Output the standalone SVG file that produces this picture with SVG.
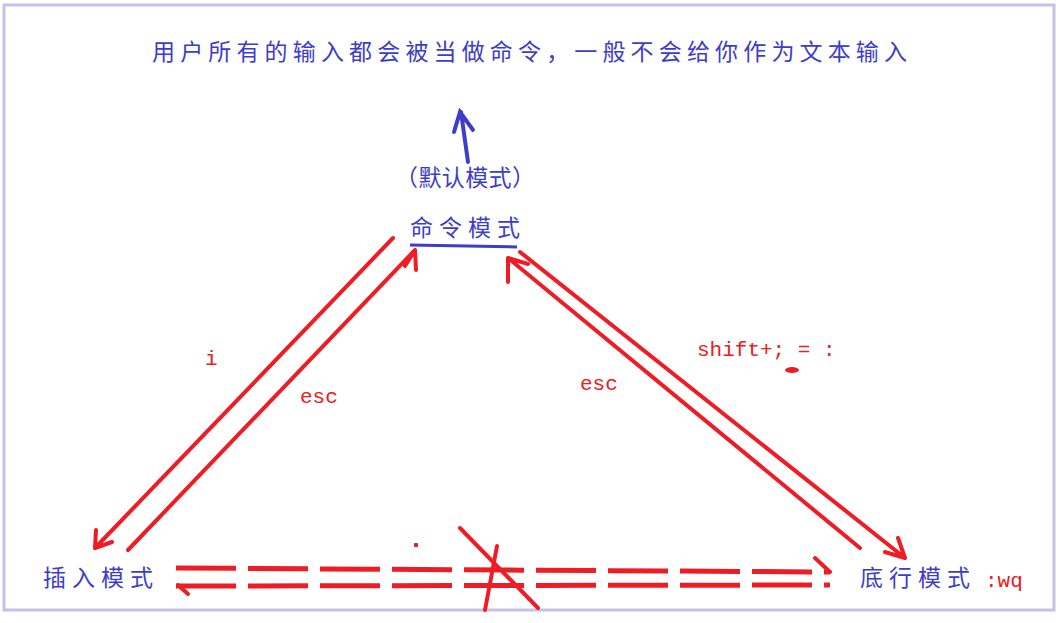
<svg xmlns="http://www.w3.org/2000/svg" width="1060" height="623" viewBox="0 0 1060 623">
<style>
.b{fill:#3d3dc8;font-family:"Noto Sans CJK SC",sans-serif;font-size:23px}
.r{fill:#e82020;font-family:"Liberation Mono",monospace;font-size:21px}
.l{stroke:#ee1c25;stroke-width:4;fill:none;stroke-linecap:round;stroke-linejoin:round}
.d{stroke:#ee1c25;stroke-width:5;fill:none;stroke-dasharray:60 12}
</style>
<rect width="1060" height="623" fill="#fff"/>
<rect x="4" y="5" width="1050" height="605" fill="none" stroke="#c8c0e8" stroke-width="3"/>
<g id="title"><text class="b" x="152" y="60" textLength="755" lengthAdjust="spacing">用户所有的输入都会被当做命令，一般不会给你作为文本输入</text></g>
<g id="cmd">
<text class="b" x="395" y="186" textLength="140" lengthAdjust="spacing">（默认模式）</text>
<text class="b" x="410" y="236" textLength="110" lengthAdjust="spacing">命令模式</text>
<line x1="410" y1="245" x2="517" y2="247" stroke="#3d3dc8" stroke-width="3"/>
<path d="M468,162 L461,112 M454,132 L460,112 L473,130" stroke="#3d3dc8" stroke-width="4" fill="none" stroke-linecap="round"/>
</g>
<g id="insert"><text class="b" x="43" y="586" textLength="110" lengthAdjust="spacing">插入模式</text></g>
<g id="lastline"><text class="b" x="860" y="586" textLength="110" lengthAdjust="spacing">底行模式</text><text class="r" x="985" y="587">:wq</text></g>
<g id="connectors">
<path class="l" d="M393,238 L95,548 M96,530 L95,548 L112,542"/>
<path class="l" d="M128,550 L415,250 M405,266 L415,250 L416,270"/>
<path class="l" d="M520,252 L905,558 M898,538 L905,558 L885,552"/>
<path class="l" d="M860,548 L508,258 M508,282 L508,258 L528,264"/>
<line class="d" x1="176" y1="568" x2="830" y2="572"/>
<line class="d" x1="176" y1="586" x2="830" y2="585"/>
<path class="l" d="M178,585 L188,594 M815,558 L830,572"/>
<path class="l" d="M460,528 L538,608 M416,545 L416,545"/>
<path class="l" d="M416,545 L416,545"/>
<path class="l" d="M416,545 L416,545"/>
<path class="l" d="M416,545 L416,545"/>
<path class="l" d="M497,546 L485,610"/>
<text class="r" x="205" y="365">i</text>
<text class="r" x="300" y="403">esc</text>
<text class="r" x="580" y="390">esc</text>
<text class="r" x="697" y="356">shift+; = :</text>
<ellipse cx="792" cy="370" rx="7" ry="3" fill="#ee1c25"/>
</g>
</svg>
